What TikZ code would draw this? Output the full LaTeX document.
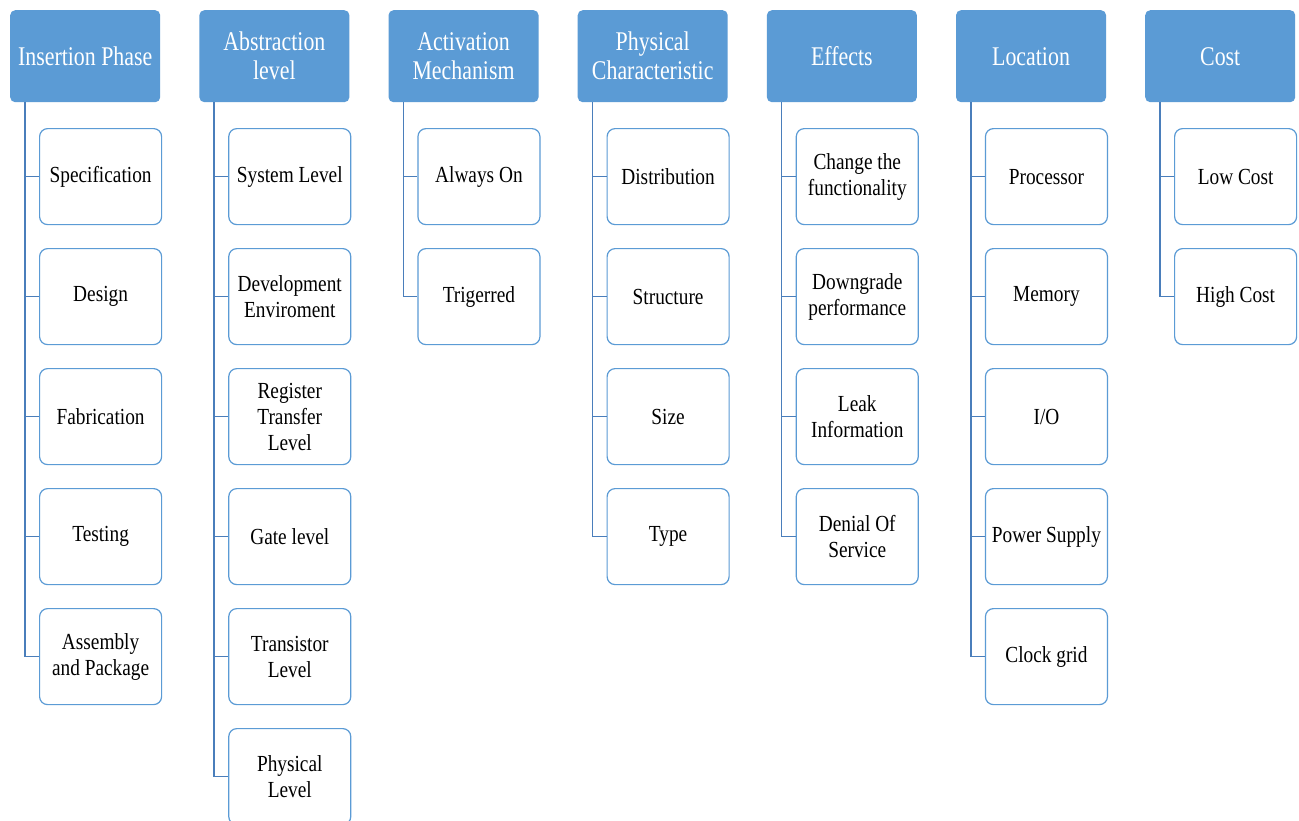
\documentclass[tikz,border=0pt]{standalone}
\usepackage{fontspec}
\setmainfont{Liberation Serif}[FakeStretch=0.84]
\newfontfamily\hdrfont{Liberation Serif}[FakeStretch=0.81]
\definecolor{hblue}{HTML}{5B9BD5}
\definecolor{lblue}{HTML}{4A7EBB}
\tikzset{
  hdr/.style={rectangle, rounded corners=5pt, fill=hblue, draw=none,
    minimum width=150pt, minimum height=92pt, text=white, anchor=north west,
    font=\hdrfont\fontsize{27}{29}\selectfont, align=center, inner sep=0pt},
  item/.style={rectangle, rounded corners=8pt, draw=hblue, line width=1.2pt,
    fill=white, minimum width=122pt, minimum height=96pt, anchor=north west,
    font=\fontsize{23}{26}\selectfont, align=center, inner sep=0pt},
  conn/.style={draw=lblue, line width=1.4pt}
}
\begin{document}
\begin{tikzpicture}[x=1pt,y=-1pt]
\useasboundingbox[fill=white] (0,0) rectangle (1299,820);
\foreach \i/\head/\items in {
  1/{Insertion Phase}/{Specification,Design,Fabrication,Testing,{Assembly\\and Package}},
  2/{Abstraction\\level}/{System Level,{Development\\Enviroment},{Register\\Transfer\\Level},Gate level,{Transistor\\Level},{Physical\\Level}},
  3/{Activation\\Mechanism}/{Always On,Trigerred},
  4/{Physical\\Characteristic}/{Distribution,Structure,Size,Type},
  5/{Effects}/{{Change the\\functionality},{Downgrade\\performance},{Leak\\Information},{Denial Of\\Service}},
  6/{Location}/{Processor,Memory,I/O,Power Supply,Clock grid},
  7/{Cost}/{Low Cost,High Cost}}{
  \pgfmathsetmacro{\hx}{10+(\i-1)*189.17}
  \node[hdr] (h\i) at (\hx,10) {\head};
  \foreach \t [count=\k] in \items {
    \pgfmathsetmacro{\cy}{128+(\k-1)*120}
    \node[item] (c\i-\k) at ({\hx+29},\cy) {\t};
    \draw[conn] ([xshift=15pt]h\i.south west) |- (c\i-\k.west);
  }
}
\end{tikzpicture}
\end{document}
